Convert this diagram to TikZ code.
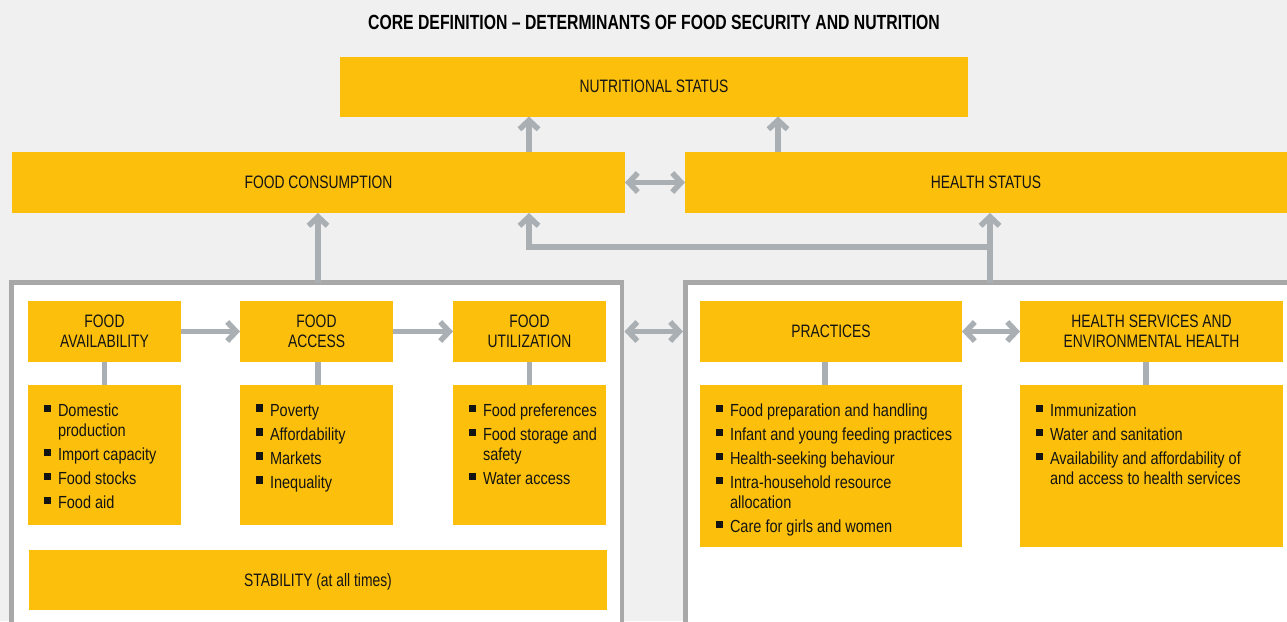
\documentclass[tikz,border=0pt]{standalone}
\usepackage{fontspec}
\setmainfont{Liberation Sans}[FakeStretch=0.77]
\newfontfamily\listfont{Liberation Sans}[FakeStretch=0.83]
\newfontfamily\titlefont{Liberation Sans}[FakeStretch=0.77]
\usetikzlibrary{arrows.meta}
\definecolor{bgc}{HTML}{F0F0F0}
\definecolor{ylw}{HTML}{FCC00C}
\definecolor{cgrey}{HTML}{A9AFB2}
\definecolor{frm}{HTML}{A8A8A8}
\definecolor{txt}{HTML}{141414}
\newcommand{\bl}[1]{\par\vspace{4pt}\noindent\hspace*{16pt}\makebox[14pt][l]{\rule[4.5pt]{7.3pt}{7.5pt}}\mbox{#1}}
\newcommand{\cl}[1]{\par\noindent\hspace*{30pt}\mbox{#1}}
\newcommand{\dlist}[3]{\parbox[c][#2][t]{#1}{\listfont\fontsize{17.5pt}{20pt}\selectfont\setlength{\parskip}{0pt}\setlength{\parindent}{0pt}\vspace*{15pt}#3}}
\tikzset{
  ybox/.style={rectangle, fill=ylw, inner sep=0pt, outer sep=0pt, text=txt, align=center,
    font=\fontsize{18pt}{20pt}\selectfont},
  frame/.style={rectangle, draw=frm, line width=4.5pt, fill=white, inner sep=0pt, outer sep=0pt},
  conn/.style={draw=cgrey, line width=5.5pt, line join=miter, -{Straight Barb[length=9pt,width=19pt]}},
  dconn/.style={draw=cgrey, line width=5.5pt, {Straight Barb[length=9pt,width=19pt]}-{Straight Barb[length=9pt,width=19pt]}},
  stub/.style={draw=cgrey, line width=5.5pt}
}
\begin{document}
\begin{tikzpicture}[x=1pt,y=-1pt]
\useasboundingbox (0,0) rectangle (1287,621);
\clip (0,0) rectangle (1287,621);
\fill[bgc] (0,0) rectangle (1287,621);

\node[text=black, font=\titlefont\bfseries\fontsize{20.5pt}{22pt}\selectfont] (title) at (654,22.5) {CORE DEFINITION \textendash{} DETERMINANTS OF FOOD SECURITY AND NUTRITION};

\node[ybox, minimum width=628pt, minimum height=60pt] (nutr) at (654,86.5) {NUTRITIONAL STATUS};
\node[ybox, minimum width=613pt, minimum height=61pt] (cons) at (318.5,182.5) {FOOD CONSUMPTION};
\node[ybox, minimum width=602pt, minimum height=61pt] (health) at (986,182.5) {HEALTH STATUS};

\node[frame, minimum width=610.5pt, minimum height=420pt, anchor=north west] (leftc) at (11.5,282.5) {};
\node[frame, minimum width=620pt, minimum height=420pt, anchor=north west] (rightc) at (685.5,282.5) {};

\node[ybox, minimum width=153pt, minimum height=61pt] (avail) at (104.5,331.5) {FOOD\\AVAILABILITY};
\node[ybox, minimum width=153pt, minimum height=61pt] (access) at (316.5,331.5) {FOOD\\ACCESS};
\node[ybox, minimum width=153pt, minimum height=61pt] (util) at (529.5,331.5) {FOOD\\UTILIZATION};

\node[ybox, align=left] (availd) at (104.5,455) {\dlist{153pt}{140pt}{\bl{Domestic}\cl{production}\bl{Import capacity}\bl{Food stocks}\bl{Food aid}}};
\node[ybox, align=left] (accessd) at (316.5,455) {\dlist{153pt}{140pt}{\bl{Poverty}\bl{Affordability}\bl{Markets}\bl{Inequality}}};
\node[ybox, align=left] (utild) at (529.5,455) {\dlist{153pt}{140pt}{\bl{Food preferences}\bl{Food storage and}\cl{safety}\bl{Water access}}};

\node[ybox, minimum width=578pt, minimum height=60pt, text depth=0pt] (stab) at (318,580) {STABILITY (at all times)};

\node[ybox, minimum width=262pt, minimum height=61pt] (prac) at (831,331.5) {PRACTICES};
\node[ybox, minimum width=263pt, minimum height=61pt] (hsvc) at (1151.5,331.5) {HEALTH SERVICES AND\\ENVIRONMENTAL HEALTH};

\node[ybox, align=left] (pracd) at (831,466) {\dlist{262pt}{162pt}{\bl{Food preparation and handling}\bl{Infant and young feeding practices}\bl{Health-seeking behaviour}\bl{Intra-household resource}\cl{allocation}\bl{Care for girls and women}}};
\node[ybox, align=left] (hsvcd) at (1151.5,466) {\dlist{263pt}{162pt}{\bl{Immunization}\bl{Water and sanitation}\bl{Availability and affordability of}\cl{and access to health services}}};

\coordinate (ux1) at (529,0);
\coordinate (ux2) at (778,0);
\coordinate (lx) at (318,0);
\coordinate (rx) at (990,0);
\coordinate (hy) at (0,247);

\draw[conn] (cons.north -| ux1) -- (nutr.south -| ux1);
\draw[conn] (health.north -| ux2) -- (nutr.south -| ux2);
\draw[dconn] (cons.east) -- (health.west);
\draw[conn] (leftc.north -| lx) -- (cons.south -| lx);
\draw[conn] (rightc.north -| rx) -- (health.south -| rx);
\draw[conn] (hy -| rx) -- (hy -| ux1) -- (cons.south -| ux1);

\draw[conn] (avail.east) -- (access.west);
\draw[conn] (access.east) -- (util.west);
\draw[dconn, shorten <=2.5pt, shorten >=2.5pt] (leftc.east |- util.east) -- (rightc.west |- prac.west);
\draw[dconn] (prac.east) -- (hsvc.west);

\draw[stub] (avail.south) -- (availd.north);
\draw[stub] ([xshift=1.5pt]access.south) -- ([xshift=1.5pt]accessd.north);
\draw[stub] (util.south) -- (utild.north);
\draw[stub] ([xshift=-6pt]prac.south) -- ([xshift=-6pt]pracd.north);
\draw[stub] ([xshift=-5.5pt]hsvc.south) -- ([xshift=-5.5pt]hsvcd.north);
\end{tikzpicture}
\end{document}
